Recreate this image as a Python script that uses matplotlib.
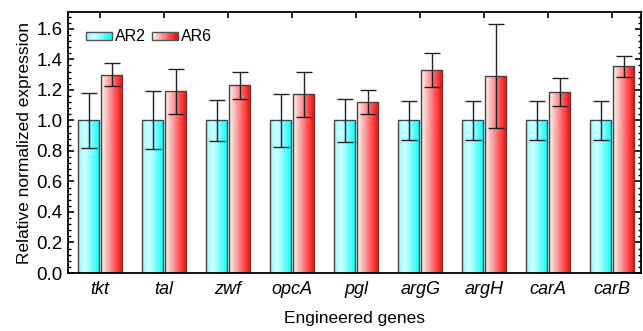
import numpy as np
import matplotlib
matplotlib.use("Agg")
import matplotlib.pyplot as plt
from matplotlib.colors import LinearSegmentedColormap
from matplotlib.legend_handler import HandlerBase
from matplotlib.patches import Rectangle
from matplotlib.ticker import MultipleLocator

plt.rcParams["font.family"] = ["Liberation Sans", "DejaVu Sans"]

genes = ["tkt", "tal", "zwf", "opcA", "pgl", "argG", "argH", "carA", "carB"]
ar2_mean = [1.0, 1.0, 1.0, 1.0, 1.0, 1.0, 1.0, 1.0, 1.0]
ar2_err = [0.18, 0.19, 0.135, 0.175, 0.14, 0.13, 0.13, 0.13, 0.13]
ar6_mean = [1.30, 1.19, 1.23, 1.17, 1.12, 1.33, 1.29, 1.185, 1.355]
ar6_err = [0.075, 0.145, 0.088, 0.15, 0.08, 0.11, 0.34, 0.09, 0.07]

cyan_cmap = LinearSegmentedColormap.from_list(
    "cy", [(0.0, (0.5, 1.0, 1.0)), (0.3, (0.85, 1.0, 1.0)), (1.0, (0.0, 1.0, 1.0))])
red_cmap = LinearSegmentedColormap.from_list(
    "rd", [(0.0, (1.0, 0.97, 0.97)), (1.0, (1.0, 0.0, 0.0))])


def gradient_bars(ax, bars, cmap):
    grad = np.linspace(0, 1, 256).reshape(1, -1)
    for b in bars:
        x, y = b.get_x(), b.get_y()
        w, h = b.get_width(), b.get_height()
        im = ax.imshow(grad, cmap=cmap, aspect="auto", extent=[x, x + w, y, y + h],
                       zorder=b.get_zorder() - 0.1, interpolation="bilinear")
        im.set_clip_path(b)
        b.set_facecolor("none")


class GradientHandler(HandlerBase):
    def __init__(self, cmap):
        super().__init__()
        self.cmap = cmap

    def create_artists(self, legend, orig_handle, xdescent, ydescent, width, height, fontsize, trans):
        arts = []
        n = 30
        h = height * 0.7
        y0 = -ydescent + (height - h) / 2
        for i in range(n):
            arts.append(Rectangle((-xdescent + width * i / n, y0), width / n + 0.2, h,
                                  facecolor=self.cmap((i + 0.5) / n), edgecolor="none", transform=trans))
        arts.append(Rectangle((-xdescent, y0), width, h, facecolor="none",
                              edgecolor="#555555", linewidth=1.0, transform=trans))
        return arts


fig = plt.figure(figsize=(6.43, 3.31), dpi=100)
ax = fig.add_axes([0.1058, 0.1752, 0.891, 0.7885])

x = np.arange(len(genes))
w = 0.33
off = 0.18
b2 = ax.bar(x - off, ar2_mean, w, edgecolor="#444444", linewidth=1.0, zorder=2)
b6 = ax.bar(x + off, ar6_mean, w, edgecolor="#444444", linewidth=1.0, zorder=2)
gradient_bars(ax, b2, cyan_cmap)
gradient_bars(ax, b6, red_cmap)

ax.errorbar(x - off, ar2_mean, yerr=ar2_err, fmt="none", ecolor="#222222",
            elinewidth=1.0, capsize=5.5, capthick=1.0, zorder=3)
ax.errorbar(x + off, ar6_mean, yerr=ar6_err, fmt="none", ecolor="#222222",
            elinewidth=1.0, capsize=5.5, capthick=1.0, zorder=3)

ax.set_xlim(-0.5, 8.45)
ax.set_ylim(0, 1.71)
ax.set_xticks(x)
ax.set_xticklabels(genes, fontstyle="italic", fontsize=13)
ax.yaxis.set_major_locator(MultipleLocator(0.2))
ax.yaxis.set_minor_locator(MultipleLocator(0.04))
ax.yaxis.set_major_formatter(matplotlib.ticker.FormatStrFormatter("%.1f"))
ax.tick_params(axis="y", which="major", direction="in", length=4, width=1.2,
               labelsize=13.5, right=True, pad=4)
ax.tick_params(axis="y", which="minor", direction="in", length=2, width=1.0, right=True)
ax.tick_params(axis="x", which="major", direction="in", length=4, width=1.2,
               top=True, bottom=False, pad=6)
for s in ax.spines.values():
    s.set_linewidth(1.3)

ax.set_ylabel("Relative normalized expression", fontsize=12.5, labelpad=3)
ax.set_xlabel("Engineered genes", fontsize=12.5, labelpad=9)

ax.legend([b2, b6], ["AR2", "AR6"], ncol=2, loc="upper left", frameon=False,
          handler_map={b2: GradientHandler(cyan_cmap), b6: GradientHandler(red_cmap)},
          handlelength=1.6, handletextpad=0.2, columnspacing=0.4, fontsize=11.5,
          bbox_to_anchor=(0.015, 0.97), borderaxespad=0.2)

fig.savefig("out.png", dpi=100)
